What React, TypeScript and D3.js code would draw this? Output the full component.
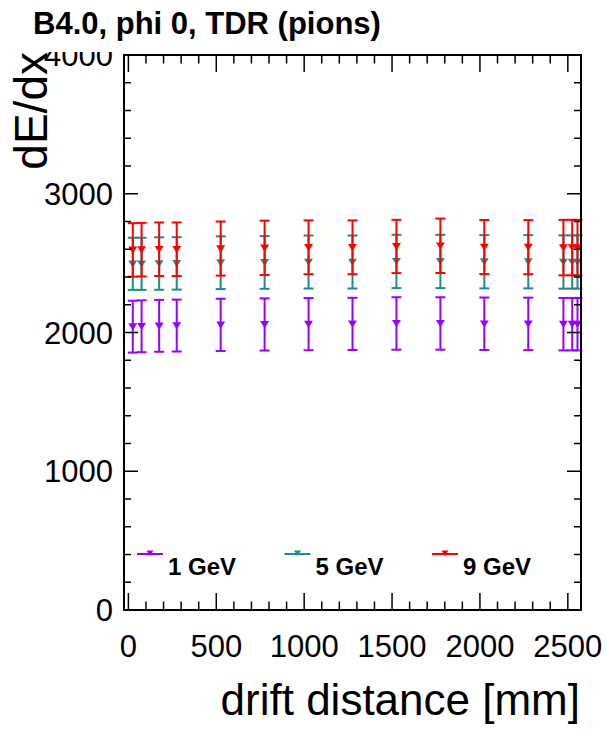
import React from "react";
import * as d3 from "d3";

const W = 606;
const H = 729;
const frame = { left: 124, right: 581, top: 55, bottom: 610 };

// drift distance [mm] of each measurement
const distances = [25, 75, 175, 275, 525, 775, 1025, 1275, 1525, 1775, 2025, 2275, 2475, 2525, 2555];

// dE/dx means and errors
const dedx1GeV = [2042, 2045, 2048, 2050, 2055, 2058, 2060, 2062, 2065, 2065, 2063, 2062, 2060, 2060, 2060];
const err1GeV = [187, 187, 187, 187, 188, 188, 188, 188, 189, 189, 189, 189, 189, 189, 189];
const dedx5GeV = [2495, 2495, 2497, 2498, 2503, 2505, 2508, 2508, 2512, 2512, 2510, 2510, 2508, 2508, 2508];
const err5GeV = [188, 188, 189, 189, 190, 190, 191, 191, 192, 192, 192, 192, 192, 192, 192];
const dedx9GeV = [2595, 2597, 2600, 2600, 2605, 2610, 2614, 2614, 2620, 2625, 2616, 2615, 2612, 2612, 2612];
const err9GeV = [193, 193, 193, 193, 195, 196, 194, 194, 192, 196, 195, 195, 200, 200, 200];

const seriesLabels = ["1 GeV", "5 GeV", "9 GeV"];
const seriesColors = ["#9900ff", "#1f8c8c", "#ff0000"];

const xTickValues = [0, 500, 1000, 1500, 2000, 2500];
const yTickValues = [0, 1000, 2000, 3000, 4000];

const title = "B4.0, phi 0, TDR (pions)";
const xTitle = "drift distance [mm]";
const yTitle = "dE/dx";

const font = "'Liberation Sans', Arial, sans-serif";

export default function App() {
  const x = d3.scaleLinear().domain([-25, 2575]).range([frame.left, frame.right]);
  const y = d3.scaleLinear().domain([0, 4000]).range([frame.bottom, frame.top]);

  const xMinor = d3.range(0, 2575, 100);
  const yMinor = d3.range(0, 4001, 200);

  const series = [
    { values: dedx1GeV, errors: err1GeV },
    { values: dedx5GeV, errors: err5GeV },
    { values: dedx9GeV, errors: err9GeV },
  ].map((s, i) => ({ ...s, label: seriesLabels[i], color: seriesColors[i] }));

  const tri = (cx: number, cy: number, r: number) =>
    `M${cx - r},${cy - r * 0.75}L${cx + r},${cy - r * 0.75}L${cx},${cy + r * 0.85}Z`;

  const xMajLen = 17, xMinLen = 8.5, yMajLen = 14, yMinLen = 7;
  const capHalf = 5;

  return (
    <svg width={W} height={H} style={{ position: "absolute", left: 0, top: 0, background: "#fff" }} fontFamily={font}>
      <defs>
        <clipPath id="ylab">
          <rect x={0} y={52} width={W} height={H} />
        </clipPath>
      </defs>
      <rect width={W} height={H} fill="#fff" />

      {/* data */}
      {series.map((s) => (
        <g key={s.label} stroke={s.color} fill={s.color}>
          {distances.map((d, i) => {
            const cx = x(d);
            const top = y(s.values[i] + s.errors[i]);
            const bot = y(s.values[i] - s.errors[i]);
            const cy = y(s.values[i]);
            return (
              <g key={i}>
                <line x1={cx} x2={cx} y1={top} y2={bot} strokeWidth={2} />
                <line x1={cx - capHalf} x2={cx + capHalf} y1={top} y2={top} strokeWidth={2} />
                <line x1={cx - capHalf} x2={cx + capHalf} y1={bot} y2={bot} strokeWidth={2} />
                <path d={tri(cx, cy, 4.5)} stroke="none" />
              </g>
            );
          })}
        </g>
      ))}

      {/* frame and ticks */}
      <g stroke="#000" strokeWidth={1.5}>
        {xMinor.map((v) => {
          const len = v % 500 === 0 ? xMajLen : xMinLen;
          return (
            <g key={"x" + v}>
              <line x1={x(v)} x2={x(v)} y1={frame.bottom} y2={frame.bottom - len} />
              <line x1={x(v)} x2={x(v)} y1={frame.top} y2={frame.top + len} />
            </g>
          );
        })}
        {yMinor.map((v) => {
          const len = v % 1000 === 0 ? yMajLen : yMinLen;
          return (
            <g key={"y" + v}>
              <line x1={frame.left} x2={frame.left + len} y1={y(v)} y2={y(v)} />
              <line x1={frame.right} x2={frame.right - len} y1={y(v)} y2={y(v)} />
            </g>
          );
        })}
        <rect
          x={frame.left}
          y={frame.top}
          width={frame.right - frame.left}
          height={frame.bottom - frame.top}
          fill="none"
          strokeWidth={2}
        />
      </g>

      {/* tick labels */}
      <g fontSize={31} fill="#000">
        {xTickValues.map((v) => (
          <text key={v} x={x(v)} y={657} textAnchor="middle">
            {v}
          </text>
        ))}
        <g clipPath="url(#ylab)">
          {yTickValues.map((v) => (
            <text key={v} x={113} y={y(v) + 11} textAnchor="end">
              {v}
            </text>
          ))}
        </g>
      </g>

      {/* axis titles */}
      <text x={580} y={715} textAnchor="end" fontSize={44}>
        {xTitle}
      </text>
      <text transform="translate(47,52) rotate(-90)" textAnchor="end" fontSize={46}>
        {yTitle}
      </text>

      {/* title */}
      <text x={33} y={34} fontSize={31} fontWeight="bold">
        {title}
      </text>

      {/* legend */}
      {series.map((s, i) => {
        const lx = 137 + i * 147.5;
        const ly = 554;
        return (
          <g key={"leg" + s.label}>
            <line x1={lx} x2={lx + 26} y1={ly} y2={ly} stroke={s.color} strokeWidth={2} />
            <path d={tri(lx + 13, ly - 1, 3.5)} fill={s.color} />
            <text x={lx + 31} y={575} fontSize={24} fontWeight="bold">
              {s.label}
            </text>
          </g>
        );
      })}
    </svg>
  );
}
